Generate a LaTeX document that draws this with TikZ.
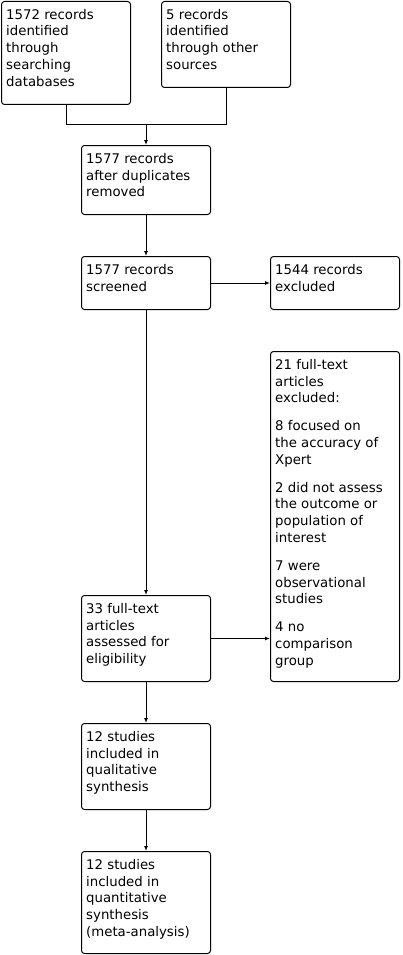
\documentclass[tikz,border=0pt]{standalone}
\usepackage{fontspec}
\setmainfont{DejaVu Sans}
\usetikzlibrary{arrows.meta}
\begin{document}
\begin{tikzpicture}[x=1pt,y=-1pt,
  box/.style={draw=black,line width=1pt,rounded corners=3pt,inner sep=0pt,anchor=north west},
  txt/.style={inner sep=0pt,anchor=north west,align=left,font=\fontsize{13.3}{16.8}\selectfont},
  arr/.style={line width=1pt,-{Latex[length=5pt,width=4pt]}},
  ln/.style={line width=1pt}]
\useasboundingbox (0,0) rectangle (402,955);
\newcommand\fl{\rule{0pt}{10.5pt}}
% boxes
\node[box,minimum width=129pt,minimum height=103pt] (A) at (1,1) {};
\node[box,minimum width=129pt,minimum height=86pt] (B) at (161,1) {};
\node[box,minimum width=129pt,minimum height=69pt] (C) at (81,145) {};
\node[box,minimum width=129pt,minimum height=53pt] (D) at (81,256) {};
\node[box,minimum width=129pt,minimum height=53pt] (E) at (270,256) {};
\node[box,minimum width=129pt,minimum height=330pt] (F) at (270,351) {};
\node[box,minimum width=129pt,minimum height=86pt] (G) at (81,595) {};
\node[box,minimum width=129pt,minimum height=86pt] (H) at (81,723) {};
\node[box,minimum width=129pt,minimum height=102pt] (I) at (81,851) {};
% texts
\node[txt] (tA) at ([shift={(5,7.5)}]A.north west) {\fl 1572 records\\identified\\through\\searching\\databases};
\node[txt] (tB) at ([shift={(5,7.5)}]B.north west) {\fl 5 records\\identified\\through other\\sources};
\node[txt] (tC) at ([shift={(5,7.5)}]C.north west) {\fl 1577 records\\after duplicates\\removed};
\node[txt] (tD) at ([shift={(5,7.5)}]D.north west) {\fl 1577 records\\screened};
\node[txt] (tE) at ([shift={(5,7.5)}]E.north west) {\fl 1544 records\\excluded};
\node[txt] (tF) at ([shift={(5,7.5)}]F.north west) {\fl 21 full-text\\articles\\excluded:\\[11pt]8 focused on\\the accuracy of\\Xpert\\[11pt]2 did not assess\\the outcome or\\population of\\interest\\[11pt]7 were\\observational\\studies\\[11pt]4 no\\comparison\\group};
\node[txt] (tG) at ([shift={(5,7.5)}]G.north west) {\fl 33 full-text\\articles\\assessed for\\eligibility};
\node[txt] (tH) at ([shift={(5,7.5)}]H.north west) {\fl 12 studies\\included in\\qualitative\\synthesis};
\node[txt] (tI) at ([shift={(5,7.5)}]I.north west) {\fl 12 studies\\included in\\quantitative\\synthesis\\(meta-analysis)};
% connectors
\coordinate (j) at (C.north |- 0,125);
\draw[ln] (A.south) |- (j);
\draw[ln] (B.south) |- (j);
\draw[arr] (j) -- (C.north);
\draw[arr] (C.south) -- (D.north);
\draw[arr] (D.east) -- (E.west);
\draw[arr] (D.south) -- (G.north);
\draw[arr] (G.east) -- (G.east -| F.west);
\draw[arr] (G.south) -- (H.north);
\draw[arr] (H.south) -- (I.north);
\end{tikzpicture}
\end{document}
